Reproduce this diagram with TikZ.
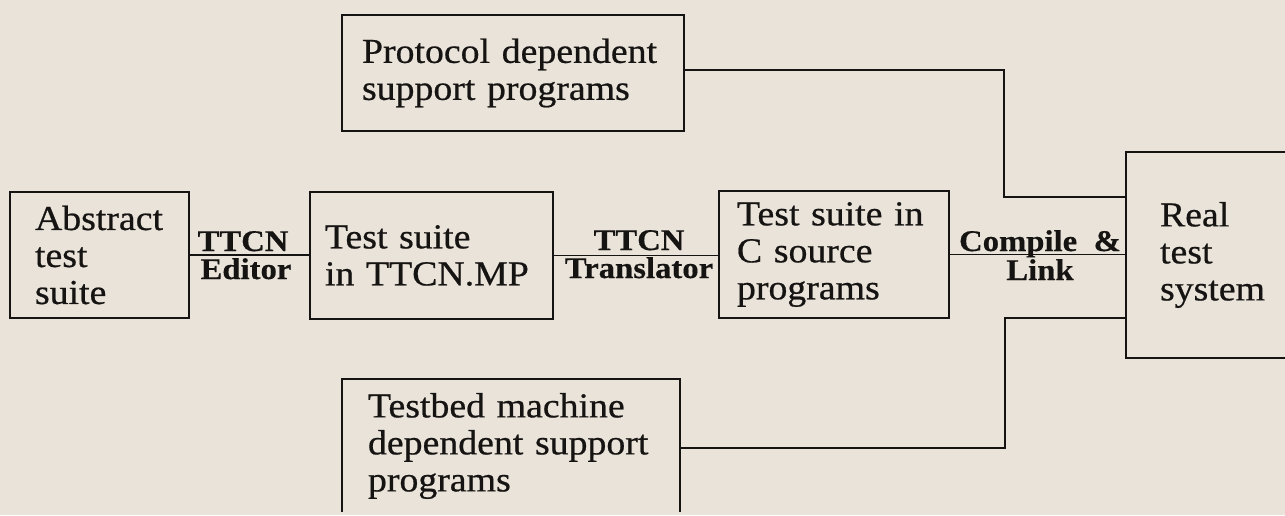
\documentclass[tikz,border=0pt]{standalone}
\usepackage{fontspec}
\setmainfont{Liberation Serif}[FakeStretch=1.08,FakeBold=0.6]
\newfontfamily\labfamily{Liberation Serif}[FakeStretch=1.09,FakeBold=0.4]
\definecolor{paper}{RGB}{233,227,218}
\definecolor{ink}{RGB}{22,20,18}
\newcommand\boxfont{\fontsize{35}{37}\selectfont\spaceskip=0.5em plus 0.1em\relax}
\newcommand\labfont{\labfamily\fontsize{30}{30}\selectfont\bfseries\spaceskip=0.55em\relax}
\begin{document}
\begin{tikzpicture}[x=1pt,y=-1pt,
  box/.style={draw=ink,line width=1.6pt,inner xsep=0pt,inner ysep=0pt,align=left,font=\boxfont,text=ink},
  lab/.style={font=\labfont,text=ink,inner sep=0pt,anchor=base},
  conn/.style={draw=ink,line width=1.5pt}]
\useasboundingbox (0,0) rectangle (1285,515);
\fill[paper] (0,0) rectangle (1285,515);
\begin{scope}
\clip (0,0) rectangle (1285,511);
\node[box,minimum width=179pt,minimum height=126pt,text width=129pt] (abs) at (99.5,255) {Abstract\\test\\suite};
\node[box,minimum width=243pt,minimum height=127pt,text width=213pt] (mp) at (431.5,255.5) {Test suite\\in TTCN.MP};
\node[box,minimum width=230pt,minimum height=127pt,text width=194pt] (csrc) at (834,254.5) {Test suite in\\C source\\programs};
\node[box,minimum width=176pt,minimum height=206pt,text width=108pt] (real) at (1214,255) {Real\\test\\system};
\node[box,minimum width=342pt,minimum height=116pt,text width=302pt] (proto) at (513,73) {Protocol dependent\\support programs};
\node[box,minimum width=338pt,minimum height=134pt,text width=286pt] (bed) at (511,446) {Testbed machine\\dependent support\\programs};
\end{scope}
\coordinate (pj) at (1004,197);
\coordinate (bj) at (1005,318);
\draw[conn] (abs.east) -- (abs.east -| mp.west);
\draw[conn] (mp.east) -- (mp.east -| csrc.west);
\draw[conn] (csrc.east) -- (csrc.east -| real.west);
\draw[conn] ([yshift=3pt]proto.east) -| (pj) -- (pj -| real.west);
\draw[conn] ([yshift=-2pt]bed.east) -| (bj) -- (bj -| real.west);
\node[lab] (l1a) at (243,251) {TTCN};
\node[lab] (l1b) at (246,279) {Editor};
\node[lab] (l2a) at (639,250) {TTCN};
\node[lab] (l2b) at (639,278) {Translator};
\node[lab] (l3a) at (1040,251) {Compile \&};
\node[lab] (l3b) at (1040,280) {Link};
\end{tikzpicture}
\end{document}
